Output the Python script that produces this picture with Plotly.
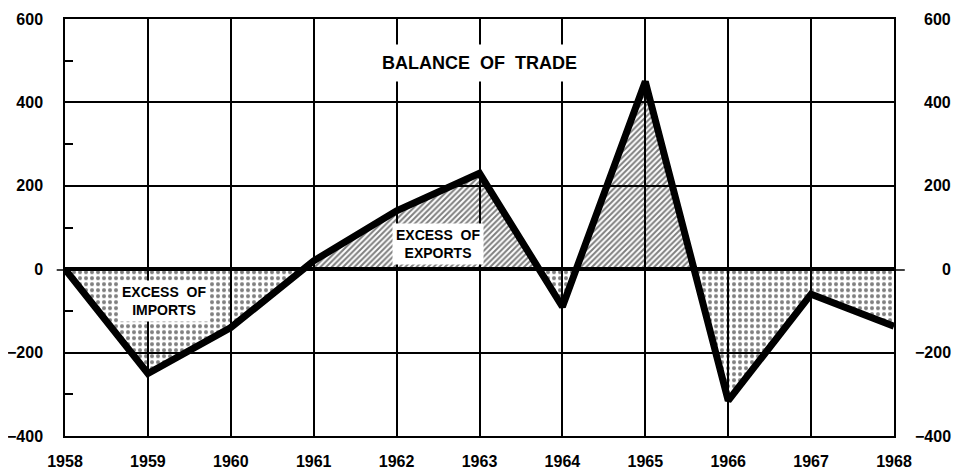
import plotly.graph_objects as go

# Balance of trade, 1958-1968
years = [1958, 1959, 1960, 1961, 1962, 1963, 1964, 1965, 1966, 1967, 1968]
balance = [0, -250, -140, 20, 140, 230, -90, 450, -315, -60, -137]

year_ticks = list(range(1958, 1969))
upper_ticks = [200, 400, 600]
lower_ticks = [-400, -200, 0]

FONT = "Liberation Sans, Arial, sans-serif"


def fmt(v):
    return f"\u2212{abs(v)}" if v < 0 else str(v)


fig = go.Figure()

# same line drawn twice: upper panel keeps the exports (hatched), lower the imports (dotted)
fig.add_trace(go.Scatter(
    x=years, y=balance, xaxis="x", yaxis="y", mode="lines",
    line=dict(color="black", width=7), fill="tozeroy",
    fillcolor="rgba(0,0,0,0)",
    fillpattern=dict(shape="/", fgcolor="black", bgcolor="rgba(0,0,0,0)",
                     size=4, solidity=0.5),
    showlegend=False, hoverinfo="skip"
))
fig.add_trace(go.Scatter(
    x=years, y=balance, xaxis="x2", yaxis="y2", mode="lines",
    line=dict(color="black", width=7), fill="tozeroy",
    fillcolor="rgba(0,0,0,0)",
    fillpattern=dict(shape=".", fgcolor="black", bgcolor="rgba(0,0,0,0)",
                     size=6, solidity=0.36),
    showlegend=False, hoverinfo="skip"
))

axis_common = dict(
    showgrid=True, gridcolor="black", gridwidth=1.5,
    showline=True, linecolor="black", linewidth=1.5, mirror=True,
    zeroline=False, ticks="", automargin=False,
)
tick_font = dict(family=FONT, size=16, color="black", weight="bold")

# the page body adds an 8px margin, so the figure is a bit smaller than the window
fig.update_layout(
    width=954, height=467,
    margin=dict(l=57, r=68, t=11, b=39),
    paper_bgcolor="white", plot_bgcolor="white",
    font=dict(family=FONT, color="black"),
    xaxis=dict(axis_common, anchor="y", domain=[0, 1], range=[1958, 1968],
               tickvals=year_ticks, showticklabels=False),
    xaxis2=dict(axis_common, anchor="y2", domain=[0, 1], range=[1958, 1968],
                matches="x", tickvals=year_ticks, tickfont=tick_font,
                ticklabelstandoff=10),
    yaxis=dict(axis_common, anchor="x", domain=[0.4, 1], range=[0, 600],
               tickvals=upper_ticks, tickfont=tick_font, ticklabelstandoff=17,
               minor=dict(tickvals=[100, 300, 500], ticks="inside", ticklen=8,
                          tickcolor="black", tickwidth=1.5, showgrid=False)),
    yaxis2=dict(axis_common, anchor="x2", domain=[0, 0.4], range=[-400, 0],
                tickvals=lower_ticks, ticktext=[fmt(v) for v in lower_ticks],
                tickfont=tick_font, ticklabelstandoff=17,
                minor=dict(tickvals=[-300, -100], ticks="inside", ticklen=8,
                           tickcolor="black", tickwidth=1.5, showgrid=False)),
)

# thick zero line, running a little past the frame
fig.add_shape(type="line", xref="paper", yref="y2", x0=-0.01, x1=1.013, y0=0, y1=0,
              line=dict(color="black", width=3))

# right-hand scale, right aligned like the original
for v in upper_ticks:
    fig.add_annotation(xref="paper", yref="y", x=1, y=v, text=fmt(v), showarrow=False,
                       xanchor="right", xshift=59, font=tick_font)
for v in lower_ticks:
    fig.add_annotation(xref="paper", yref="y2", x=1, y=v, text=fmt(v), showarrow=False,
                       xanchor="right", xshift=59, font=tick_font)

fig.add_annotation(xref="x", yref="y", x=1963.0, y=495, text="BALANCE  OF  TRADE",
                   showarrow=False, bgcolor="white", borderpad=8,
                   font=dict(family=FONT, size=18, color="black", weight="bold"))
fig.add_annotation(xref="x", yref="y", x=1962.5, y=60, text="EXCESS  OF<br>EXPORTS",
                   showarrow=False, bgcolor="white", borderpad=3,
                   font=dict(family=FONT, size=14, color="black", weight="bold"))
fig.add_annotation(xref="x2", yref="y2", x=1959.2, y=-77, text="EXCESS  OF<br>IMPORTS",
                   showarrow=False, bgcolor="white", borderpad=3,
                   font=dict(family=FONT, size=14, color="black", weight="bold"))

fig.write_html("out.html")
